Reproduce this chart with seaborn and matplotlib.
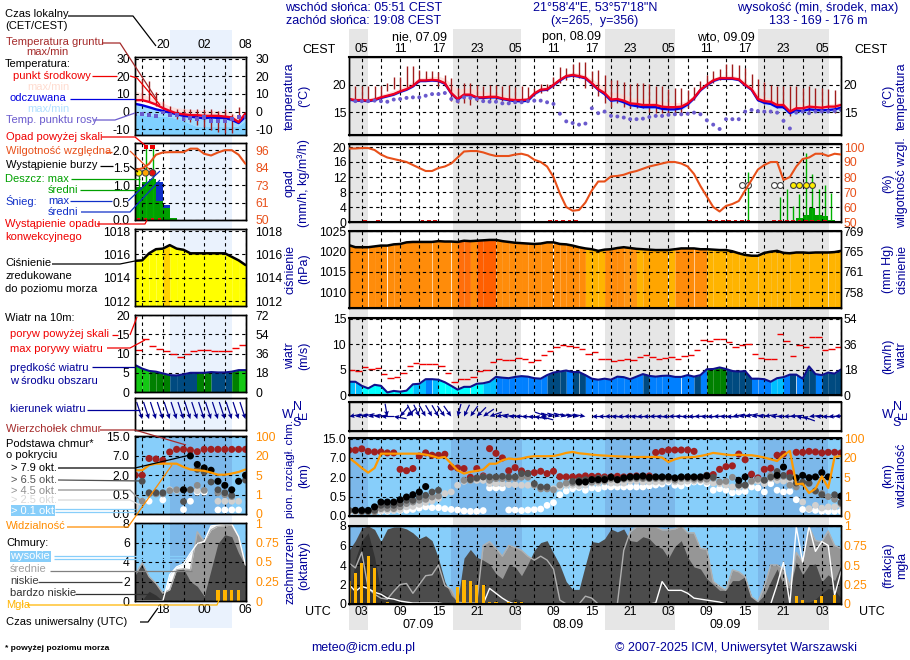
import numpy as np
import matplotlib
matplotlib.use('Agg')
import matplotlib.pyplot as plt
from matplotlib.ticker import FixedLocator
import seaborn as sns

nan = np.nan

# ---------- main time range: hours since 01 UTC 07.09 ----------
hours = list(range(78))
cest_labels = ['05', '11', '17', '23', '05', '11', '17', '23', '05', '11', '17', '23', '05']
utc_labels = ['03', '09', '15', '21', '03', '09', '15', '21', '03', '09', '15', '21', '03']

t_mid = [17.4, 17.2, 17.2, 17.1, 17.3, 17.7, 18.0, 18.3, 18.8, 19.2,
         19.8, 20.8, 20.8, 20.9, 20.8, 20.3, 18.5, 17.4, 18.2, 18.2,
         17.7, 17.7, 17.8, 17.8, 17.5, 17.3, 17.2, 17.2, 17.3, 18.4,
         19.1, 19.2, 20.0, 20.9, 21.6, 21.8, 21.6, 21.3, 20.3, 19.2,
         18.5, 17.3, 17.4, 17.1, 16.6, 16.5, 16.3, 16.3, 16.3, 16.0,
         15.9, 15.9, 16.0, 16.6, 17.6, 19.1, 20.0, 20.8, 21.2, 21.2,
         21.2, 21.0, 20.0, 19.2, 17.4, 17.0, 16.9, 16.3, 16.3, 15.1,
         15.7, 15.7, 16.0, 15.9, 15.8, 16.0, 16.0, 16.3]
t_top = [17.8, 17.7, 17.7, 17.6, 17.8, 18.2, 18.6, 19.0, 19.4, 20.0,
         20.6, 21.3, 21.4, 21.5, 21.6, 21.2, 20.2, 19.2, 19.4, 19.4,
         19.0, 18.8, 18.6, 18.5, 18.3, 18.0, 17.8, 17.7, 17.7, 18.9,
         19.6, 19.8, 20.5, 21.3, 22.1, 22.3, 22.2, 21.8, 21.1, 20.3,
         19.6, 18.6, 18.6, 18.2, 17.7, 17.5, 17.4, 17.3, 17.2, 17.0,
         16.8, 16.7, 16.8, 17.2, 18.2, 19.6, 20.6, 21.3, 21.7, 21.8,
         21.7, 21.5, 20.6, 19.8, 18.2, 17.8, 17.6, 17.0, 17.0, 16.0,
         16.4, 16.4, 16.6, 16.5, 16.4, 16.5, 16.6, 16.8]
feel = [17.3, 17.1, 17.1, 17.0, 17.2, 17.6, 17.9, 18.2, 18.7, 19.1,
        19.7, 20.7, 20.7, 20.8, 20.7, 20.2, 18.4, 17.3, 18.1, 18.1,
        17.6, 17.6, 17.7, 17.7, 17.4, 17.2, 17.0, 17.0, 17.1, 18.3,
        19.0, 19.1, 19.9, 20.8, 21.5, 21.7, 21.5, 21.2, 20.2, 19.1,
        18.3, 17.1, 17.2, 16.8, 16.3, 16.1, 15.9, 15.9, 15.9, 15.6,
        15.5, 15.5, 15.7, 16.4, 17.5, 19.0, 19.9, 20.7, 21.1, 21.1,
        21.1, 20.9, 19.9, 19.1, 17.2, 16.7, 16.5, 15.9, 15.9, 14.8,
        15.3, 15.2, 15.5, 15.4, 15.3, 15.4, 15.5, 15.8]
feel_low = [17.0, 16.9, 16.9, 16.8, 17.0, 17.4, 17.7, 18.0, 18.5, 18.9,
            19.5, 20.5, 20.5, 20.6, 20.5, 20.0, 18.2, 17.0, 17.8, 17.8,
            17.3, 17.3, 17.4, 17.4, 17.1, 16.9, 16.7, 16.7, 16.8, 18.0,
            18.8, 18.9, 19.7, 20.6, 21.3, 21.5, 21.3, 21.0, 20.0, 18.9,
            18.0, 16.7, 16.8, 16.4, 15.9, 15.7, 15.5, 15.5, 15.5, 15.2,
            15.1, 15.1, 15.3, 16.1, 17.3, 18.8, 19.7, 20.5, 20.9, 20.9,
            20.9, 20.7, 19.7, 18.9, 16.9, 16.3, 16.1, 15.4, 15.4, 14.3,
            14.7, 14.7, 15.0, 14.9, 14.8, 14.9, 15.0, 15.4]
dew = [17.2, 17.0, 17.0, 17.0, 17.1, 17.0, 16.9, 17.3, 17.4, 17.6,
       17.7, 17.7, 18.0, 18.3, 18.3, 18.5, 17.4, 17.0, 17.7, 17.6,
       17.4, 17.0, 16.9, 16.9, 16.6, 16.6, 16.8, 16.8, 17.0, 17.1,
       17.1, 16.8, 16.5, 14.7, 13.3, 13.0, 12.7, 12.9, 15.7, 14.8,
       15.1, 14.3, 14.2, 14.0, 13.7, 13.7, 13.8, 14.1, 14.3, 14.3,
       14.5, 14.6, 14.6, 14.7, 14.9, 14.6, 13.5, 12.7, 11.9, 13.7,
       13.7, 13.7, 15.1, 15.4, 15.2, 15.1, 15.1, 14.9, 13.4, 12.0,
       14.9, 15.1, 14.8, 15.1, 15.1, 15.1, 15.2, 15.4]
gnd_hours = list(range(1, 77))
gnd_max = [19.7, 19.7, 19.7, 19.7, 19.8, 20.4, 21.5, 21.4, 23.5, 23.5,
           22.7, 22.6, 22.5, 22.3, 21.8, 21.2, 19.4, 20.3, 20.4, 20.0,
           19.7, 20.0, 20.0, 19.8, 20.0, 19.6, 19.7, 19.6, 19.4, 20.2,
           20.2, 21.5, 23.2, 23.0, 23.8, 24.1, 24.1, 22.6, 22.7, 21.8,
           20.9, 20.9, 20.6, 20.2, 20.3, 20.3, 20.2, 19.8, 19.7, 19.2,
           19.4, 19.4, 19.0, 19.6, 20.7, 21.8, 22.6, 22.9, 23.8, 23.8,
           23.7, 23.0, 22.0, 21.0, 20.6, 20.0, 19.8, 19.8, 19.7, 19.8,
           19.4, 19.7, 19.4, 19.4, 19.2, 19.0]
gnd_min = [16.9, 17.1, 17.0, 17.3, 17.6, 18.8, 19.2, 19.1, 19.6, 19.7,
           20.6, 20.9, 20.9, 19.8, 19.8, 17.0, 16.6, 16.6, 16.3, 17.0,
           17.0, 17.3, 17.3, 17.0, 16.6, 16.6, 16.6, 17.4, 17.9, 18.5,
           18.8, 19.4, 20.3, 20.9, 21.2, 21.2, 19.4, 19.4, 17.9, 16.6,
           16.0, 16.6, 16.0, 15.7, 15.7, 15.7, 15.1, 14.8, 14.8, 14.5,
           14.5, 14.5, 15.7, 17.3, 18.8, 19.4, 20.3, 20.9, 21.0, 21.0,
           20.9, 19.8, 19.4, 17.0, 16.5, 16.6, 15.7, 15.7, 14.2, 15.1,
           15.1, 14.8, 15.1, 15.1, 15.1, 14.8]

rh = [99, 99, 99.3, 99.3, 98, 95, 93, 92, 91, 90,
      88, 86, 84, 84, 86, 87, 89, 93, 97, 97.3,
      97.3, 96.4, 95, 94, 94, 94, 95, 95.5, 94.4, 91.5,
      90, 87, 80, 69, 60, 57.5, 58, 63, 71, 77,
      77, 80.4, 80.7, 81.5, 83, 84, 85.5, 87, 88, 89,
      90, 90, 89, 87, 82, 74, 67, 60, 57, 60.7,
      62, 64, 71, 78, 85, 88, 90, 90, 78, 80,
      87, 92, 93, 95.5, 95.5, 94, 95.5, 95]
conv_hours = [2.5, 4.5, 11.5, 12.5, 13.5, 31.5, 32.5, 33.5, 34.5, 35.5,
              56.5, 57.5, 58.5, 59.5, 60.5, 61.5, 62.5, 66.5, 67.5, 68.5,
              69.5, 70.5, 71.5, 72.5, 73.5, 74.5]
rain_max_hours = [62.5, 67.5, 68.5, 69.5, 70.5, 71.5, 72.5, 73.5, 74.5, 75.5]
rain_max = [13.3, 6.7, 8.7, 4.3, 7.6, 18.5, 12.9, 8.9, 10.0, 7.8]
rain_hours = [69.5, 70.5, 71.5, 72.5, 73.5, 74.5, 75.5, 76.5]
rain_mean = [0.3, 1.1, 1.8, 3.7, 1.8, 1.5, 0.5, 0.2]
storm_open = [61.5, 62.5, 66.5, 67.5]
storm_yellow = [69.5, 70.5, 71.5, 72.5]
storm_level = 10

pressure = [1021.6, 1021.1, 1021.1, 1021.1, 1021.3, 1021.5, 1021.5, 1021.8, 1021.9, 1022.3,
            1022.4, 1022.4, 1022.4, 1022.4, 1022.6, 1022.5, 1022.5, 1022.4, 1022.7, 1022.6,
            1022.7, 1022.8, 1022.9, 1022.9, 1022.6, 1022.4, 1022.2, 1022.1, 1022.0, 1021.9,
            1022.0, 1022.3, 1022.3, 1021.9, 1021.8, 1021.5, 1021.1, 1020.8, 1020.6, 1020.2,
            1020.5, 1020.6, 1020.9, 1021.1, 1020.9, 1020.7, 1020.6, 1020.5, 1020.4, 1020.4,
            1020.4, 1020.6, 1020.8, 1020.8, 1020.8, 1020.6, 1020.6, 1020.5, 1020.4, 1020.4,
            1020.1, 1019.6, 1019.2, 1019.0, 1019.0, 1019.7, 1020.0, 1020.2, 1019.7, 1019.6,
            1019.8, 1019.8, 1019.7, 1019.8, 1019.8, 1019.8, 1019.9, 1020.2]
pressure_colors = ['#ffb400', '#ff8c0a', '#ff6e0a', '#ff5f00', '#ff9614', '#ffa500', '#ffff00', '#ffd200']
pressure_band = [1, 1, 1, 1, 1, 1, 1, 1, 1, 1,
                 1, 1, 1, 1, 1, 1, 1, 2, 2, 1,
                 3, 3, 3, 1, 1, 1, 1, 1, 1, 1,
                 1, 1, 1, 1, 1, 1, 1, 0, 0, 0,
                 1, 1, 1, 4, 4, 0, 5, 5, 5, 5,
                 0, 1, 1, 1, 1, 1, 0, 0, 0, 0,
                 0, 0, 0, 0, 0, 0, 0, 0, 0, 0,
                 0, 0, 0, 0, 0, 0, 0]

wind = [2.6, 2.6, 1.8, 1.3, 2.0, 1.8, 0.5, 0.8, 0.65, 0.85,
        2.1, 2.2, 3.1, 3.1, 3.0, 2.5, 1.8, 1.05, 1.6, 1.6,
        2.2, 2.3, 2.6, 3.55, 3.4, 3.3, 3.55, 3.7, 3.6, 3.3,
        3.2, 3.9, 4.4, 4.6, 4.8, 4.5, 4.5, 3.9, 3.2, 3.0,
        3.2, 3.0, 3.6, 3.5, 3.1, 3.6, 4.1, 3.75, 3.6, 3.75,
        3.8, 3.55, 3.55, 3.9, 3.6, 3.9, 5.05, 5.1, 5.4, 5.1,
        4.7, 4.6, 4.7, 3.2, 3.2, 3.1, 2.6, 3.3, 3.5, 4.0,
        4.0, 3.2, 5.6, 4.1, 3.9, 4.4, 4.2, 5.0]
wind_colors = ['#00ffff', '#00c0ff', '#0080ff', '#004a80', '#008000', '#14c814']
wind_band = [1, 1, 0, 0, 0, 0, 0, 0, 0, 0,
             1, 1, 2, 1, 0, 0, 0, 0, 0, 0,
             0, 1, 1, 2, 2, 2, 2, 2, 2, 2,
             2, 3, 3, 3, 2, 3, 3, 2, 2, 2,
             2, 2, 2, 2, 2, 2, 3, 2, 2, 2,
             2, 2, 2, 2, 3, 2, 4, 4, 4, 3,
             3, 3, 3, 2, 2, 2, 1, 1, 2, 3,
             2, 3, 3, 2, 3, 3, 3]
gust = [4.9, 4.7, 5.5, 5.1, 5.3, 4.1, 3.3, 3.5, 4.3, 5.7,
        6.3, 6.1, 6.1, 6.1, 5.7, 4.3, 2.5, 3.1, 3.1, 3.5,
        4.7, 4.9, 6.4, 7.1, 6.8, 6.8, 7.2, 7.0, 6.4, 6.8,
        7.8, 8.6, 9.4, 9.9, 9.6, 9.4, 9.0, 8.0, 8.4, 7.0,
        7.0, 6.6, 6.8, 7.0, 6.8, 7.4, 7.8, 7.4, 7.0, 7.3,
        7.4, 7.0, 7.6, 7.8, 8.8, 10.7, 10.6, 11.0, 11.0, 10.4,
        9.4, 9.8, 10.0, 8.0, 7.3, 7.0, 7.0, 12.0, 10.6, 7.6,
        9.8, 9.5, 11.4, 11.4, 8.8, 9.0, 9.4]
wind_from = [80, 80, 78, 82, 85, 90, 350, 100, 40, 50,
             335, 335, 330, 330, 330, 325, 325, 15, 25, 35,
             45, 55, 70, 80, 85, 88, 90, 92, 95, 100,
             105, 290, 285, 285, 285, 280, 280, 280, 90, 90,
             88, 92, 90, 88, 92, 90, 90, 88, 92, 90,
             88, 90, 92, 90, 88, 92, 90, 88, 90, 92,
             80, 82, 78, 82, 85, 80, 88, 90, 88, 85,
             100, 110, 85, 90, 92, 88, 85, 75]

# cloud base axis is a stepped scale, so values below are positions on it
base_ticks = [0, 1, 2, 3, 4]
base_labels = ['0.0', '0.5', '2.0', '7.0', '15.0']
vis_labels = ['0', '1', '5', '20', '100']
cloud_top = [3.4, 3.4, 3.47, 3.34, 3.31, 3.31, 3.26, 3.26, 2.41, 2.34,
             2.45, 3.1, 3.26, 3.14, 3.14, 3.19, 2.53, 2.48, 2.45, 2.0,
             2.45, 2.07, 3.48, 3.24, 3.0, 2.34, 2.5, 2.33, 2.2, 2.24,
             2.31, 2.19, 2.31, 2.03, 2.02, 2.02, 2.02, 2.07, 2.05, 2.05,
             2.02, 2.02, 2.05, 2.02, 2.05, 2.07, 2.05, 2.07, 3.28, 3.34,
             3.41, 3.41, 3.41, 3.41, 3.34, nan, 2.1, 2.14, 2.41, 2.55,
             2.59, 3.2, 2.91, 2.16, 1.97, 2.41, 2.47, 3.14, 3.2, 2.22,
             3.29, 3.29, 3.34, 3.31, 3.26, 3.29, 3.29, 3.26]
base_79 = [nan, .29, .29, .29, .47, .72, .72, .72, .84, .98,
           1.1, 1.24, 1.52, nan, nan, nan, nan, nan, nan, nan,
           nan, nan, nan, nan, nan, nan, nan, nan, nan, nan,
           nan, nan, nan, nan, nan, nan, 1.76, 1.76, 1.88, 1.88,
           1.88, 2.0, 1.88, 1.97, 2.02, 2.03, 2.07, 2.0, 2.02, 2.02,
           2.02, 1.97, 2.02, 2.02, 2.02, 2.02, 2.07, nan, nan, nan,
           nan, 1.84, 2.02, nan, nan, nan, nan, 2.1, 2.53, nan,
           1.97, 2.1, 1.98, 2.02, 2.24, 2.02, nan, 1.03]
base_65 = [.29, .29, .24, .24, .29, .55, .55, .55, .64, .81,
           .81, .98, 1.07, 1.24, 1.33, nan, nan, nan, nan, 1.88,
           1.97, 2.02, 2.02, 2.02, 2.05, 2.02, 2.02, 2.19, 2.19, 1.67,
           1.5, 1.5, nan, nan, nan, 1.79, 1.84, 1.88, 1.9, 1.95,
           1.95, 2.0, 1.9, 1.95, 2.0, 2.0, 2.0, 1.95, 2.0, 2.0,
           2.0, 1.95, 2.0, 2.0, 1.98, 1.98, 2.1, 2.0, nan, nan,
           nan, 1.6, 1.6, nan, nan, 1.85, 2.0, 2.3, 2.1, 2.0,
           1.7, 1.75, 1.7, 1.3, 1.1, nan, 1.1, .7]
base_45 = [.29, .24, .21, .21, .21, .38, .38, .38, .47, .64,
           .72, .81, .86, .98, 1.03, nan, nan, nan, 1.84, 1.84,
           1.93, 2.02, 1.84, 1.93, 1.93, 1.93, 1.95, 2.0, 2.0, 1.6,
           1.4, 1.4, 1.35, 1.6, 1.7, 1.7, 1.7, 1.75, 1.75, 1.8,
           1.8, 1.9, 1.85, 1.9, 1.93, 1.93, 1.93, 1.93, 1.93, 1.93,
           1.93, 1.85, 1.93, 1.93, 1.9, 1.9, 1.9, 1.95, 1.76, 1.79,
           2.0, 1.59, 1.59, 1.8, 1.9, 1.84, 2.1, 2.0, 2.05, 1.59,
           1.5, 1.72, 1.67, 1.28, 1.16, 1.0, .86, .64]
base_25 = [.2, .2, .21, .21, .21, .29, .29, .29, .33, .47,
           .5, .6, .7, .78, .9, 1.16, 1.24, 1.59, 1.79, 1.84,
           1.84, 1.84, 1.67, 1.67, 1.67, 1.62, 1.62, 1.59, 1.59, 1.59,
           nan, 1.41, 1.41, 1.5, 1.59, 1.59, 1.55, 1.6, 1.7, 1.7,
           1.76, 1.7, 1.7, 1.7, 1.8, 1.8, 1.76, 1.76, 1.76, 1.76,
           1.84, 1.76, 1.76, 1.8, 1.8, 1.84, 1.76, 1.7, 1.67, 1.6,
           1.5, 1.5, 1.53, 1.76, 1.8, 1.67, 1.93, 1.84, 1.8, 1.8,
           1.59, .72, .38, .55, .41, .47, .47, .55]
base_01 = [.21, .24, .24, .24, .24, .24, .24, .29, .29, .29,
           .34, .41, .47, .43, .43, .38, .34, .31, .26, .24,
           .24, .28, 1.45, 1.45, 1.45, .31, .31, .28, .31, .33,
           .36, .55, .69, 1.1, 1.29, 1.41, 1.47, 1.33, 1.45, 1.41,
           1.5, 1.5, 1.5, 1.5, 1.5, 1.5, 1.5, 1.55, 1.6, 1.65,
           1.76, 1.59, 1.55, 1.67, 1.76, 1.76, 1.67, 1.33, 1.41, 1.33,
           1.2, 1.24, 1.27, 1.5, 1.45, 1.24, 1.67, 1.33, 1.24, 1.27,
           .84, .34, .34, .29, .24, .24, .24, .24]
visibility = [3.0, 2.76, 2.48, 2.24, 2.48, 3.22, 3.22, 3.22, 3.22, 3.22,
              3.22, 3.22, 3.17, 3.1, 3.0, 3.05, 2.7, 2.36, 2.19, 2.28,
              2.33, 2.4, 2.7, 2.7, 2.88, 2.97, 2.93, 2.97, 3.05, 3.09,
              3.09, 3.09, 3.1, 3.17, 3.26, 3.31, 3.24, 3.21, 3.17, 3.14,
              3.12, 3.1, 3.08, 3.07, 3.06, 3.05, 3.05, 3.05, 3.05, 3.02,
              2.79, 2.93, 3.02, 3.03, 3.05, 3.1, 3.17, 3.26, 3.22, 3.17,
              3.14, 3.17, 3.14, 3.14, 3.09, 3.02, 2.93, 2.84, 3.14, 3.36,
              1.64, 1.67, 1.19, 1.41, 2.05, 1.45, 3.05, 3.1]

low_cloud = [5.5, 6.5, 7.8, 8.0, 7.65, 6.4, 7.7, 7.9, 7.9, 7.7,
             7.3, 6.7, 7.0, 6.5, 4.7, 2.3, 0.9, 0.25, 4.7, 5.6,
             4.8, 4.5, 4.1, 3.1, 2.6, 4.0, 3.8, 2.9, 4.1, 5.5,
             6.3, 6.5, 5.2, 4.0, 2.3, 1.5, 1.5, 4.0, 6.4, 6.3,
             6.7, 7.7, 7.4, 7.7, 6.5, 6.4, 6.9, 6.7, 6.0, 5.7,
             4.7, 5.9, 6.5, 4.8, 3.8, 3.6, 2.6, 2.0, 1.4, 1.4,
             2.4, 2.4, 2.8, 0.75, 0.25, 0.9, 2.3, 3.6, 1.9, 1.6,
             4.3, 3.0, 4.0, 4.1, 2.3, 3.0, 2.4, 4.0]
mid_cloud = [4.2, 3.7, 5.3, 1.6, 1.0, 0.6, 0.5, 1.3, 2.0, 2.1,
             1.1, 2.0, 2.9, 3.0, 4.0, 1.9, 1.5, 0.2, 0.1, 0.1,
             0.1, 6.0, 6.4, 5.7, 4.9, 6.0, 5.8, 5.5, 4.9, 4.5,
             4.9, 4.5, 3.6, 0.4, 0.0, 0.0, 0.0, 0.8, 0.6, 0.0,
             0.0, 0.0, 0.0, 5.5, 7.4, 7.9, 7.9, 7.9, 7.9, 7.6,
             7.6, 7.7, 8.0, 7.3, 7.3, 5.7, 5.6, 2.3, 1.8, 1.4,
             3.5, 3.3, 2.8, 0.75, 0.25, 1.8, 4.0, 4.0, 3.6, 1.9,
             5.3, 4.3, 7.9, 6.5, 6.4, 7.5, 6.0, 5.7]
high_cloud = [2.0, 1.3, 1.8, 1.6, 1.2, 1.0, 0.6, 0.5, 0.3, 0.2,
              0.1, 0.1, 0.1, 0.1, 0.1, 0.0, 0.0, 0.0, 0.0, 0.0,
              0.0, 0.0, 1.6, 1.1, 0.6, 0.2, 0.0, 0.0, 0.0, 0.0,
              0.0, 0.0, 0.0, 0.0, 0.0, 0.0, 0.0, 0.0, 0.0, 0.0,
              0.0, 0.0, 0.0, 0.0, 0.0, 0.0, 0.0, 0.0, 0.1, 2.3,
              1.4, 1.4, 1.4, 1.1, 0.6, 0.5, 0.4, 0.3, 0.2, 0.0,
              0.0, 0.0, 0.0, 0.0, 0.0, 0.0, 0.0, 2.0, 4.3, 0.0,
              7.9, 4.3, 8.0, 5.4, 6.4, 6.0, 0.9, 3.3]
vlow_cloud = [0.0, 4.6, 6.5, 7.3, 4.8, 1.2, 0.9, 0.6, 0.3, 0.2,
              0.0, 0.0, 0.0, 0.0, 0.0, 0.0, 0.0, 0.0, 0.0, 0.0,
              0.0, 0.0, 0.0, 0.0, 0.0, 0.2, 0.6, 0.3, 0.0, 0.0,
              0.0, 0.0, 0.0, 0.0, 0.0, 0.0, 0.0, 0.0, 0.0, 0.0,
              0.0, 0.0, 0.0, 0.0, 0.0, 0.0, 0.0, 0.0, 0.0, 0.0,
              0.0, 0.0, 0.0, 0.0, 0.0, 0.0, 0.0, 0.0, 0.0, 0.0,
              0.0, 0.0, 0.0, 0.0, 0.0, 0.0, 0.0, 0.0, 0.0, 0.0,
              0.1, 0.2, 0.2, 0.5, 1.1, 1.6, 1.4, 0.6]
fog_hours = [0, 1, 2, 3, 4, 6, 17, 18, 19, 20, 21, 22, 23, 25, 26, 27, 70, 71, 73, 74, 76]
fog = [.29, .4, .52, .62, .46, .03, .22, .31, .29, .25, .24, .03, .03, .03, .03, .03, .1, .05, .05, .1, .11]

# ---------- short panels at the left: 16 hours before the forecast ----------
hours_s = list(range(17))
s_t_mid = [6.5, 6.5, 5.5, 4.0, 2.0, 0.4, -1.0, -1.5, -2.0, -2.0, -2.4, -2.4, -2.4, -2.8, -3.3, -6.0, -1.0]
s_t_top = [11.6, 10.4, 8.5, 6.8, 5.0, 3.1, 2.2, 1.8, 1.3, 0.9, 0.7, 0.7, 0.4, 0.0, -0.5, -3.3, -0.5]
s_feel = [4.4, 3.6, 2.5, 1.3, 0.4, -0.5, -1.5, -2.4, -2.9, -3.3, -3.8, -3.3, -3.6, -3.6, -4.7, -6.5, -2.9]
s_feel_low = [-1.5, -2.0, -2.0, -2.5, -2.5, -3.0, -4.0, -5.0, -7.0, -8.5, -8.5, -8.5, -8.5, -8.5, -8.5, -8.0, -5.0]
s_dew = [-1.5, -1.5, -1.8, -2.7, -0.5, -1.8, -1.8, -4.2, -3.8, -4.2, -3.3, -5.1, -5.5, -5.5, -4.4, -3.3, -3.0]
s_gnd_hours = list(range(1, 16))
s_gnd_max = [18.5, 17.6, 11.3, 5.8, 3.1, 1.3, 1.3, 1.3, 1.3, 1.3, 1.3, 0.4, 1.3, -1.5, 2.5]
s_gnd_min = [6.7, 5.8, 3.1, 0.4, -2.4, -4.2, -5.1, -6.0, -7.8, -8.7, -10.5, -11.5, -12.4, -12.4, -5.1]
s_rh = [83, 84, 87, 93, 94.5, 94.7, 94.7, 94.7, 97, 97, 93.6, 92.5, 94.5, 96, 96, 93, 87]
s_rain_hours = [0.5, 1.5, 2.5, 3.5, 4.5, 5.5]
s_rain_mean = [0.94, 1.1, 1.18, 0.53, 0.34, 0.06]
s_snow_mean = [0, 0, 0, 0.57, 0.09, 0]
s_rain_max_hours = [0.5, 1.5, 2.5]
s_rain_max = [1.35, 2.07, 2.07]
s_over_scale = [1.5, 2.5]
s_conv_hours = [0.5, 1.5, 2.5, 3.5]
s_storm_hours = [0.5, 1.5, 2.5]
s_storm_colors = ['#ffee00', '#ffa500', '#e01010']
s_storm_level = 1.35
s_pressure = [1015.46, 1015.5, 1016.1, 1016.45, 1016.5, 1016.8, 1016.5, 1016.4, 1016.1,
              1016.1, 1016.1, 1016.1, 1016.1, 1016.1, 1015.8, 1015.5, 1015.1]
s_pressure_band = [6, 6, 6, 6, 7, 6, 6, 6, 6, 6, 6, 6, 6, 6, 6, 6]
s_wind = [7.0, 6.1, 5.5, 5.3, 4.85, 4.4, 4.3, 4.6, 5.0, 5.0, 5.0, 5.2, 5.1, 5.1, 5.3, 5.7, 5.7]
s_wind_band = [5, 5, 4, 4, 4, 3, 3, 3, 3, 4, 4, 3, 3, 3, 4, 5]
s_gust = [11.0, 13.8, 12.0, 11.2, 10.6, 9.8, 9.1, 10.0, 10.7, 10.9, 10.9, 10.6, 10.6, 10.6, 11.4, 12.3]
s_wind_from = [342] * 17
s_cloud_top = [2.0, 2.0, 2.87, 2.84, 2.78, 3.2, 3.34, 3.34, 3.3, 3.22, 3.34, 3.34, 3.34, 3.34, 3.34, 3.34, 3.34]
s_base_79 = [nan, nan, nan, nan, nan, nan, nan, 1.25, 3.0, 2.56, 2.38, 2.26, 1.69, 1.48, 1.25, 1.69, 2.0]
s_base_65 = [nan, 1.69, 1.1, 1.1, 1.1, nan, nan, .64, 1.25, 2.3, 2.17, 1.65, 1.25, 1.1, .96, nan, 1.75]
s_base_45 = [nan, .66, 1.04, 1.04, 1.04, 1.2, 1.25, 1.25, 1.25, 1.48, 1.22, nan, 1.1, 1.0, .9, nan, nan]
s_base_25 = [.38, nan, nan, nan, nan, 1.25, 1.22, nan, nan, 1.2, nan, nan, .66, .66, .66, .66, nan]
s_base_01 = [nan, .66, .66, nan, .73, nan, nan, .23, .66, 1.13, 1.13, nan, .21, .21, .21, .21, nan]
s_visibility = [2.26, 2.26, 2.52, 2.6, 2.6, 2.6, 2.6, 2.43, 2.3, 2.26, 2.23, 2.14, 2.03, 2.03, 2.09, 2.17, 2.3]
s_low_cloud = [2.7, 3.9, 2.5, 1.8, 0.8, 1.15, 3.2, 3.3, 2.0, 1.5, 0.5, 3.2, 5.9, 6.8, 6.6, 4.9, 3.6]
s_mid_cloud = [2.7, 3.9, 2.5, 1.8, 0.8, 1.15, 3.2, 3.3, 3.2, 7.1, 6.1, 7.3, 7.7, 7.7, 7.8, 6.6, 3.7]
s_high_cloud = [0.0, 0.0, 0.0, 0.0, 0.0, 2.7, 3.5, 3.8, 4.9, 5.9, 6.1, 7.7, 7.8, 7.9, 7.9, 6.6, 3.7]
s_vlow_cloud = [0.2, 0.1, 1.0, 0.6, 0.0, 0.0, 0.0, 0.0, 0.0, 0.0, 0.0, 0.0, 0.0, 0.0, 0.0, 0.0, 0.0]
s_fog_hours = [12, 13, 14, 15]
s_fog = [.145, .145, .145, .145]

# ---------- style ----------
NAVY = '#000099'
RH_COL = '#e8501a'
ORANGE = '#ff8c00'
SKY = '#87cefa'
SKY_NIGHT = '#7cb8ea'
FS = 9
TICK = 8.7

sns.set_theme(style='white', rc={'axes.edgecolor': 'black', 'text.color': 'black',
                                 'xtick.color': 'black', 'ytick.color': 'black',
                                 'axes.labelcolor': 'black', 'axes.linewidth': 1.0})
plt.rcParams['font.family'] = ['Liberation Sans', 'DejaVu Sans']
plt.rcParams['font.size'] = FS

W, H = 910, 660
fig = plt.figure(figsize=(W / 100, H / 100), dpi=100, facecolor='white')

bg = fig.add_axes([0, 0, 1, 1], zorder=0)
bg.set_xlim(0, W)
bg.set_ylim(H, 0)
bg.axis('off')
over = fig.add_axes([0, 0, 1, 1], zorder=5)
over.set_xlim(0, W)
over.set_ylim(H, 0)
over.axis('off')
over.patch.set_alpha(0)

# daylight stripe on the short panels and night stripes on the long ones
bg.axvspan(170, 231.5, ymin=1 - 628 / H, ymax=1 - 30 / H, color='#eaf2fd', lw=0)
NIGHTS = [(349, 368), (452.5, 520.5), (605, 675), (758, 829)]
for a, b in NIGHTS:
    bg.axvspan(a, b, ymin=1 - 630 / H, ymax=1 - 29 / H, color='#e6e6e6', lw=0)


def panel(x0, y0, x1, y1):
    ax = fig.add_axes([x0 / W, 1 - y1 / H, (x1 - x0) / W, (y1 - y0) / H], zorder=1)
    ax.patch.set_visible(False)
    return ax


def dress(ax, xmax, ylim, yticks, ylabels, rlabels, short, rcolor='black', ygrid=True):
    ax.set_xlim(0, xmax)
    ax.set_ylim(*ylim)
    ax.set_xlabel('')
    ax.set_ylabel('')
    if short:
        major, minor = [4, 10, 16], [1, 7, 13]
    else:
        major, minor = list(range(2, 78, 6)), list(range(5, 78, 6))
    ax.set_xticks(major)
    ax.xaxis.set_minor_locator(FixedLocator(minor))
    ax.set_xticklabels([])
    ax.tick_params(axis='both', which='both', length=0, labelsize=TICK)
    ax.tick_params(axis='y', pad=4 if short else 2)
    ax.set_yticks(yticks)
    ax.set_yticklabels(ylabels)
    ax.set_axisbelow(False)
    ax.grid(True, axis='x', which='both', color='black', lw=0.8, ls=(0, (3, 3)))
    if ygrid:
        ax.grid(True, axis='y', which='major', color='black', lw=0.8, ls=(0, (3, 3)))
    for s in ax.spines.values():
        s.set_linewidth(1.0)
        s.set_zorder(20)
    if not short:
        ax.spines['bottom'].set_linewidth(1.5)
        ax.spines['top'].set_linewidth(1.5)
    tw = ax.twinx()
    tw.set_ylim(*ylim)
    tw.set_yticks(yticks)
    tw.set_yticklabels(rlabels, color=rcolor)
    tw.tick_params(axis='y', length=0, labelsize=TICK, pad=7 if short else 2)
    tw.grid(False)
    tw.patch.set_visible(False)
    return tw


def seg_fill(ax, x, y, base, bands, colors):
    for i in range(len(x) - 1):
        ax.fill_between(x[i:i + 2], y[i:i + 2], base, color=colors[bands[i]], lw=0, zorder=1,
                        antialiased=False)


def line(ax, x, y, color, lw, z=4):
    sns.lineplot(x=x, y=y, ax=ax, color=color, linewidth=lw, legend=False, errorbar=None, zorder=z)


def dots(ax, x, y, color, s, marker='o', z=4, edge='none', lw=0):
    sns.scatterplot(x=x, y=y, ax=ax, color=color, s=s, marker=marker, linewidth=lw,
                    edgecolor=edge, legend=False, zorder=z, clip_on=True)


def temp_panel(ax, x, mid, top, fl, fl_low, dw, gx, gmax, gmin, short):
    ax.fill_between(x, mid, top, color='#ffd9d4', alpha=0.75, lw=0, zorder=1)
    ax.fill_between(x, fl_low, fl, color='#9fdcff' if short else '#c7e6ff', lw=0, zorder=1)
    if short:
        ax.fill_between(x, -14, fl_low, color='#7fd0ff', lw=0, zorder=1)
    ax.vlines(gx, gmin, gmax, color='#a01c1c', lw=1.0, zorder=3)
    line(ax, x, fl, '#0000e0', 1.7, 4)
    line(ax, x, mid, '#f00020', 1.7, 5)
    dots(ax, x, dw, '#6a5acd', 8, 's' if short else 'o', 6)


def wind_panel(ax, x, w, bands, gusts):
    seg_fill(ax, x, w, 0, bands, wind_colors)
    line(ax, x, w, '#10108c', 1.5, 4)
    ax.hlines(gusts, x[:-1], x[1:], color='#f00000', lw=1.0, zorder=4)


def dir_panel(ax, x, deg, length):
    rad = np.radians(deg)
    ax.quiver(x, [0] * len(x), -np.sin(rad) * length, -np.cos(rad) * length, color='#000090',
              pivot='tip', angles='uv', scale_units='dots', scale=1, units='dots', width=1.2,
              headwidth=4, headlength=4.5, headaxislength=4, minlength=0, zorder=4, clip_on=True)


def base_panel(ax, x, top, b79, b65, b45, b25, b01, vis, nights):
    ax.set_facecolor(SKY)
    ax.patch.set_visible(True)
    for a, b in nights:
        ax.axvspan(a, b, color=SKY_NIGHT, lw=0, zorder=0.5)
    dots(ax, x, top, '#a02020', 26, z=3.1)
    dots(ax, x, b01, 'white', 24, z=3.2)
    dots(ax, x, b25, '#d0d0d0', 24, z=3.3)
    dots(ax, x, b45, '#8c8c8c', 24, z=3.4)
    dots(ax, x, b65, '#505050', 24, z=3.5)
    dots(ax, x, b79, 'black', 26, z=3.6)
    line(ax, x, vis, '#ff9900', 1.6, 4)


def cloud_panel(ax, x, high, mid, low, vlow, fx, fv, nights, short):
    ax.set_facecolor(SKY)
    ax.patch.set_visible(True)
    for a, b in nights:
        ax.axvspan(a, b, color=SKY_NIGHT, lw=0, zorder=0.5)
    if short:
        ax.fill_between(x, 0, high, color='white', lw=0, zorder=0.8)
    ax.fill_between(x, 0, mid, color='#969696', lw=0, zorder=1)
    ax.fill_between(x, 0, low, color='#4c4c4c', lw=0, zorder=1.1)
    ax.fill_between(x, 0, vlow, color='#333333', lw=0, zorder=1.2)
    line(ax, x, mid, '#b0b0b0', 1.0, 3)
    line(ax, x, high, 'white', 1.0, 3.1)
    # fog is a fraction 0-1, the panel runs 0-8 oktas
    ax.bar(fx, np.array(fv) * 8, width=0.5, color='#ffb400', lw=0, zorder=3.5)


# night stripes in hours, for the panels with a sky background
night_h = [(0, 3), (16, 27), (40, 51), (64, 75)]
day_s = [(5.1, 14.1)]

# ---------- long panels ----------
X0, X1 = 349, 841

ax = panel(X0, 57, X1, 135)
temp_panel(ax, hours, t_mid, t_top, feel, feel_low, dew, gnd_hours, gnd_max, gnd_min, False)
dress(ax, 77, (10.8, 25.1), [15, 20], ['15', '20'], ['15', '20'], False)
ax.set_xticklabels(cest_labels)
ax.tick_params(axis='x', labeltop=True, labelbottom=False, pad=1.5)

ax = panel(X0, 144, X1, 222)
ax.bar(rain_hours, rain_mean, width=1, color='#00a000', lw=0, zorder=1)
ax.vlines(rain_max_hours, 0, rain_max, color='#00b000', lw=1.0, zorder=1.5)
rh_ax = dress(ax, 77, (0, 20.8), [0, 4, 8, 12, 16, 20], ['0', '4', '8', '12', '16', '20'],
              ['50', '60', '70', '80', '90', '100'], False, RH_COL)
rh_ax.set_ylim(50, 102)
rh_ax.set_yticks([50, 60, 70, 80, 90, 100])
rh_ax.set_yticklabels(['50', '60', '70', '80', '90', '100'], color=RH_COL)
line(rh_ax, hours, rh, RH_COL, 1.5)
rh_ax.set_xlim(0, 77)
rh_ax.set_ylabel('')
dots(ax, conv_hours, [0.15] * len(conv_hours), '#e01010', 7, 's', 6)
dots(ax, storm_open, [storm_level] * 4, 'white', 18, z=6, edge='#404040', lw=0.8)
dots(ax, storm_yellow, [storm_level] * 4, '#ffee00', 18, z=6, edge='#404040', lw=0.8)
ax.set_xlim(0, 77)
ax.set_ylim(0, 20.8)

ax = panel(X0, 231, X1, 308)
seg_fill(ax, hours, pressure, 1000, pressure_band, pressure_colors)
line(ax, hours, pressure, 'black', 1.8)
dress(ax, 77, (1006.1, 1025.1), [1010, 1015, 1020, 1025], ['1010', '1015', '1020', '1025'],
      ['758', '761', '765', '769'], False)

ax = panel(X0, 318, X1, 395)
wind_panel(ax, hours, wind, wind_band, gust)
dress(ax, 77, (0, 15.1), [0, 5, 10, 15], ['0', '5', '10', '15'], ['0', '18', '36', '54'], False)

ax = panel(X0, 402, X1, 431)
dir_panel(ax, hours, wind_from, 13)
dress(ax, 77, (-1, 1), [], [], [], False)

ax = panel(X0, 438, X1, 516)
base_panel(ax, hours, cloud_top, base_79, base_65, base_45, base_25, base_01, visibility, night_h)
dress(ax, 77, (0, 4.03), base_ticks, base_labels, vis_labels, False, ORANGE)

ax = panel(X0, 526, X1, 604)
cloud_panel(ax, hours, high_cloud, mid_cloud, low_cloud, vlow_cloud, fog_hours, fog, night_h, False)
dress(ax, 77, (0, 8), [0, 2, 4, 6, 8], ['0', '2', '4', '6', '8'],
      ['0', '0.25', '0.5', '0.75', '1'], False, ORANGE)
ax.set_xticklabels(utc_labels)
ax.tick_params(axis='x', pad=1.5)

# ---------- short panels ----------
S0, S1 = 135.3, 245.5

ax = panel(S0, 57, S1, 134.5)
temp_panel(ax, hours_s, s_t_mid, s_t_top, s_feel, s_feel_low, s_dew, s_gnd_hours, s_gnd_max, s_gnd_min, True)
dress(ax, 16, (-13, 31), [-10, 0, 10, 20, 30], ['-10', '0', '10', '20', '30'],
      ['-10', '0', '10', '20', '30'], True)
ax.set_xticklabels(['20', '02', '08'])
ax.tick_params(axis='x', labeltop=True, labelbottom=False, pad=4)

ax = panel(S0, 143.5, S1, 220)
ax.bar(s_rain_hours, s_rain_mean, width=1, color='#00a000', lw=0, zorder=1)
ax.bar(s_rain_hours, s_snow_mean, width=1, bottom=s_rain_mean, color='#1030c8', lw=0, zorder=1)
ax.vlines(s_rain_max_hours, 0, s_rain_max, color='#00b000', lw=1.0, zorder=1.5)
rh_ax = dress(ax, 16, (0, 2.19), [0, 0.5, 1, 1.5, 2], ['0.0', '0.5', '1.0', '1.5', '2.0'],
              ['50', '61', '73', '84', '96'], True, RH_COL)
rh_ax.set_ylim(50, 100.4)
rh_ax.set_yticks([50, 61.5, 73, 84.5, 96])
rh_ax.set_yticklabels(['50', '61', '73', '84', '96'], color=RH_COL)
line(rh_ax, hours_s, s_rh, RH_COL, 1.5)
rh_ax.set_xlim(0, 16)
rh_ax.set_ylabel('')
dots(ax, s_conv_hours, [0.02] * 4, '#e01010', 6, 's', 6)
dots(ax, s_over_scale, [2.08] * 2, '#f00000', 9, 's', 6)
sns.scatterplot(x=s_storm_hours, y=[s_storm_level] * 3, ax=ax, hue=s_storm_hours, palette=s_storm_colors,
                s=22, edgecolor='#404040', linewidth=0.7, legend=False, zorder=6)
ax.set_xlim(0, 16)
ax.set_ylim(0, 2.19)

ax = panel(S0, 229.3, S1, 306)
seg_fill(ax, hours_s, s_pressure, 1000, s_pressure_band, pressure_colors)
line(ax, hours_s, s_pressure, 'black', 1.8)
dress(ax, 16, (1011.6, 1018.15), [1012, 1014, 1016, 1018], ['1012', '1014', '1016', '1018'],
      ['1012', '1014', '1016', '1018'], True)

ax = panel(S0, 314.5, S1, 392)
wind_panel(ax, hours_s, s_wind, s_wind_band, s_gust)
dress(ax, 16, (0, 20.2), [0, 5, 10, 15, 20], ['0', '5', '10', '15', '20'],
      ['0', '18', '36', '54', '72'], True)

ax = panel(S0, 398, S1, 430)
dir_panel(ax, hours_s, s_wind_from, 18)
dress(ax, 16, (-0.68, 1.32), [], [], [], True)

ax = panel(S0, 436, S1, 514)
base_panel(ax, hours_s, s_cloud_top, s_base_79, s_base_65, s_base_45, s_base_25, s_base_01, s_visibility, day_s)
dress(ax, 16, (0, 4.03), base_ticks, base_labels, vis_labels, True, ORANGE)

ax = panel(S0, 523, S1, 601)
cloud_panel(ax, hours_s, s_high_cloud, s_mid_cloud, s_low_cloud, s_vlow_cloud, s_fog_hours, s_fog, day_s, True)
dress(ax, 16, (0, 8), [0, 2, 4, 6, 8], ['0', '2', '4', '6', '8'],
      ['0', '0.25', '0.5', '0.75', '1'], True, ORANGE)
ax.set_xticklabels(['18', '00', '06'])
ax.tick_params(axis='x', pad=2)

# ---------- texts and leader lines ----------
text_size = FS


def txt(x, y, s, color='black', ha='left', rot=0, size=None, **kw):
    over.text(x, y, s, color=color, ha=ha, va='center', rotation=rot,
              fontsize=size or text_size, **kw)


def lead(xs, ys, color='black', lw=0.9):
    over.plot(xs, ys, color=color, lw=lw, solid_capstyle='butt', clip_on=False)


# top header
txt(364, 8, 'wschód słońca: 05:51 CEST', NAVY, 'center')
txt(364, 21, 'zachód słońca: 19:08 CEST', NAVY, 'center')
txt(595, 8, '21°58\'4"E, 53°57\'18"N', NAVY, 'center')
txt(595, 21, '(x=265,  y=356)', NAVY, 'center')
txt(818, 8, 'wysokość (min, środek, max)', NAVY, 'center')
txt(818, 21, '133 - 169 - 176 m', NAVY, 'center')
txt(419, 37, 'nie, 07.09', ha='center')
txt(572, 37, 'pon, 08.09', ha='center')
txt(726, 37, 'wto, 09.09', ha='center')
txt(319, 50, 'CEST', ha='center')
txt(871, 50, 'CEST', ha='center')
txt(318, 612, 'UTC', ha='center')
txt(872, 612, 'UTC', ha='center')
txt(418, 625, '07.09', ha='center')
txt(568, 625, '08.09', ha='center')
txt(725, 625, '09.09', ha='center')
txt(363, 648, 'meteo@icm.edu.pl', NAVY, 'center')
txt(736, 648, '© 2007-2025 ICM, Uniwersytet Warszawski', NAVY, 'center')

# axis titles on both sides of the long panels
for cy, a, b, c, d in [(96, 'temperatura', '(°C)', '(°C)', 'temperatura'),
                       (183, 'opad', '(mm/h, kg/m³/h)', '(%)', 'wilgotność wzgl.'),
                       (269, 'ciśnienie', '(hPa)', '(mm Hg)', 'ciśnienie'),
                       (356, 'wiatr', '(m/s)', '(km/h)', 'wiatr'),
                       (476, 'pion. rozciągł. chm.', '(km)', '(km)', 'widzialność'),
                       (565, 'zachmurzenie', '(oktanty)', '(frakcja)', 'mgła')]:
    size_a = 8.2 if a.startswith('pion') else FS
    txt(290, cy - (7 if a.startswith('pion') else 0), a, NAVY, 'center', 90, size=size_a)
    txt(304, cy, b, NAVY, 'center', 90)
    txt(888, cy, c, NAVY, 'center', 90)
    txt(902, cy, d, NAVY, 'center', 90)

# compass marks next to the wind direction panel
for ox in (288, 888):
    txt(ox, 415, 'W', NAVY, 'center')
    txt(ox + 9, 407, 'N', NAVY, 'center')
    txt(ox + 16, 415, 'E', NAVY, 'center', 90)
    txt(ox + 9, 423, 'S', NAVY, 'center')

# legend column
text_size = 8
txt(5, 14, 'Czas lokalny')
txt(5, 26, '(CET/CEST)')
lead([68, 133, 156], [16, 16, 46])
BROWN = '#a52a2a'
txt(6, 42, 'Temperatura gruntu', BROWN)
txt(47, 52, 'max/min', BROWN, 'center')
lead([102, 120, 157], [43, 43, 100], BROWN)
txt(5, 64, 'Temperatura:')
txt(13, 76, 'punkt środkowy', '#f00000')
lead([92, 117], [76, 76], '#f00000')
lead([130, 137, 160], [76, 78, 105], '#f00000')
txt(27, 87, 'max/min', '#ffdcd0')
txt(10, 98, 'odczuwana', '#0000e0')
lead([70, 135], [99, 99], '#0000e0')
txt(27, 109, 'max/min', '#b0e0ff')
txt(6, 120, 'Temp. punktu rosy', '#6a5acd')
lead([94, 115, 135], [120, 120, 113], '#6a5acd')
txt(6, 137, 'Opad powyżej skali', '#f00000')
lead([102, 135, 146], [137, 137, 146], '#f00000')
txt(6, 151, 'Wilgotność względna', RH_COL)
lead([106, 112], [152, 152], RH_COL)
lead([130, 150], [151, 170], RH_COL)
txt(6, 165, 'Wystąpienie burzy')
lead([100, 113], [166, 166])
lead([130, 138], [166, 172])
txt(5, 179, 'Deszcz: max', '#00a000')
lead([71, 140], [179, 179], '#00a000')
txt(48, 190, 'średni', '#00a000')
lead([80, 148], [190, 190], '#00a000')
txt(5, 201, 'Śnieg:', '#1030c8')
txt(48, 201, 'max', '#1030c8')
lead([70, 112], [201, 201], '#1030c8')
lead([128, 160], [201, 171], '#1030c8')
txt(48, 212, 'średni', '#1030c8')
lead([81, 130, 160], [212, 212, 180], '#1030c8')
txt(5, 224, 'Wystąpienie opadu', '#f00000')
txt(5, 237, 'konwekcyjnego', '#f00000')
lead([97, 145, 147], [224, 224, 220], '#f00000')
txt(5, 263, 'Ciśnienie')
txt(5, 276, 'zredukowane')
txt(5, 289, 'do poziomu morza')
lead([52, 120, 135], [264, 264, 261])
txt(5, 318, 'Wiatr na 10m:')
txt(10, 334, 'poryw powyżej skali', '#f00000')
lead([112, 118], [335, 335], '#f00000')
lead([130, 137], [335, 317], '#f00000')
txt(10, 349, 'max porywy wiatru', '#f00000')
lead([107, 130, 145], [348, 348, 340], '#f00000')
txt(10, 368, 'prędkość wiatru', NAVY)
txt(10, 381, 'w środku obszaru', NAVY)
lead([92, 135], [367, 367], NAVY)
txt(10, 409, 'kierunek wiatru', NAVY)
lead([87, 140], [410, 410], NAVY)
txt(6, 429, 'Wierzchołek chmur', BROWN)
lead([100, 135, 186], [430, 430, 445], BROWN)
txt(6, 444, 'Podstawa chmur*')
txt(6, 455, 'o pokryciu')
txt(11, 468, '> 7.9 okt.')
lead([58, 135, 190], [468, 468, 455])
txt(11, 480, '> 6.5 okt.', '#505050')
lead([58, 143], [480, 481], '#505050')
txt(11, 491, '> 4.5 okt.', '#909090')
lead([58, 130, 140], [490, 490, 500], '#909090')
txt(11, 500, '> 2.5 okt.', '#d8d8d8')
lead([58, 130, 140], [500, 500, 505], '#d8d8d8')
over.fill_between([11, 55], 505, 516, color=SKY, lw=0)
txt(11, 511, '> 0.1 okt.', 'white')
lead([55, 135], [509, 509], SKY)
lead([55, 135], [512, 512], SKY)
txt(6, 526, 'Widzialność', ORANGE)
lead([67, 128, 172], [527, 527, 465], ORANGE)
txt(6, 543, 'Chmury:')
over.fill_between([10, 51], 551, 562, color=SKY, lw=0)
txt(10, 556, 'wysokie', 'white')
lead([54, 185], [556, 556], SKY)
lead([54, 185], [559, 559], SKY)
txt(10, 569, 'średnie', '#a0a0a0')
lead([50, 192], [571, 571], '#808080')
txt(10, 581, 'niskie', '#404040')
lead([38, 122], [582, 582], '#404040')
txt(10, 593, 'bardzo niskie', '#303030')
lead([75, 150], [594, 594], '#303030')
txt(6, 605, 'Mgła', '#ffb400')
lead([27, 217, 219], [605, 605, 600], '#ffb400')
txt(6, 622, 'Czas uniwersalny (UTC)')
lead([140, 148, 158], [622, 622, 608])
txt(5, 648, '* powyżej poziomu morza', size=6.1, fontweight='bold')

fig.savefig('out.png', dpi=100, facecolor='white')
